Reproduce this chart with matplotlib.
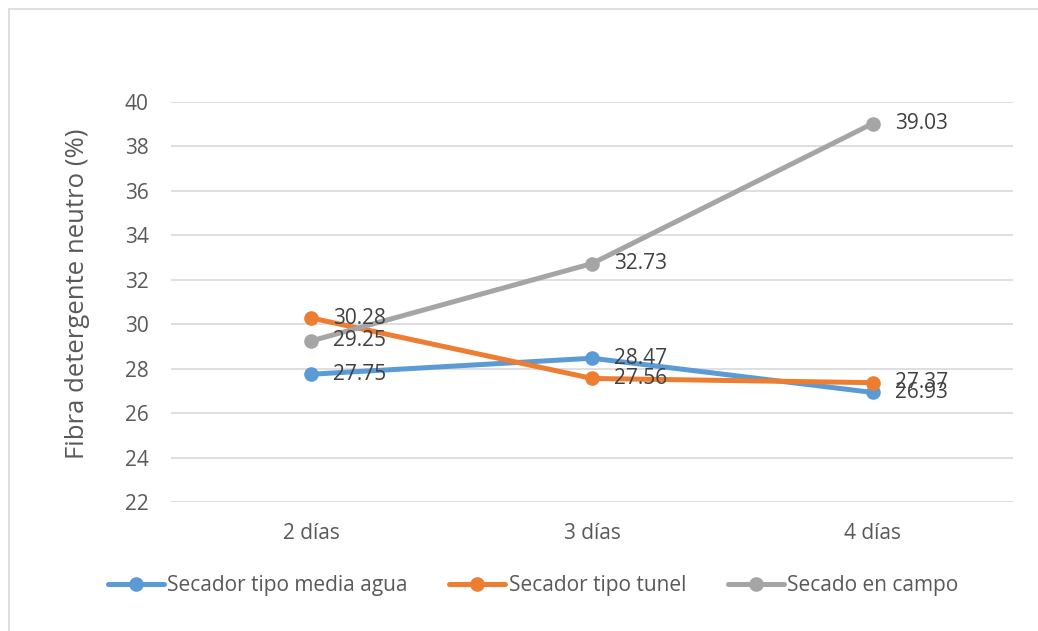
import matplotlib
matplotlib.use("Agg")
import matplotlib.pyplot as plt
from matplotlib.patches import Rectangle

plt.rcParams['font.family'] = ['Open Sans', 'DejaVu Sans']

categories = ["2 días", "3 días", "4 días"]
series_names = ["Secador tipo media agua", "Secador tipo tunel", "Secado en campo"]
media_agua = [27.75, 28.47, 26.93]
tunel = [30.28, 27.56, 27.37]
campo = [29.25, 32.73, 39.03]
yticks = [22, 24, 26, 28, 30, 32, 34, 36, 38, 40]
colors = ["#5B9BD5", "#ED7D31", "#A5A5A5"]
text_color = "#595959"

W, H = 1038, 631
fig = plt.figure(figsize=(W / 100, H / 100), dpi=100)
fig.patch.set_facecolor("white")

# chart border (only top/left visible in frame)
fig.add_artist(Rectangle((9 / W, -0.05), 1.2, 1 - 9 / H + 0.05, transform=fig.transFigure,
                         fill=False, edgecolor="#D9D9D9", linewidth=1.2))

left, right = 171 / W, 1013 / W
top, bottom = 1 - 102 / H, 1 - 502 / H
ax = fig.add_axes([left, bottom, right - left, top - bottom])

x = list(range(len(categories)))
for vals, name, c in zip([media_agua, tunel, campo], series_names, colors):
    ax.plot(x, vals, color=c, linewidth=3.6, marker="o", markersize=9.5,
            label=name, solid_capstyle="round", zorder=3)
    for xi, v in zip(x, vals):
        ax.annotate(f"{v:.2f}", (xi, v), xytext=(22, 0), textcoords="offset pixels",
                    ha="left", va="center", fontsize=15, color="#404040", zorder=4)

ax.set_xlim(-0.5, len(categories) - 0.5)
ax.set_ylim(22, 40)
ax.set_yticks(yticks)
ax.set_yticklabels([str(t) for t in yticks])
ax.set_xticks(x)
ax.set_xticklabels(categories)
ax.grid(axis="y", color="#D9D9D9", linewidth=1.2, zorder=0)
ax.set_axisbelow(True)
for s in ax.spines.values():
    s.set_visible(False)
ax.tick_params(axis="both", length=0, labelsize=15, colors=text_color)
ax.tick_params(axis="y", pad=16)
ax.tick_params(axis="x", pad=15)
ax.set_ylabel("Fibra detergente neutro (%)", fontsize=18.5, color=text_color)
ax.yaxis.set_label_coords(-0.096, 0.52)

handles, labels = ax.get_legend_handles_labels()
leg = fig.legend(handles, labels, loc="center", bbox_to_anchor=(533 / W, 1 - 586 / H),
                 ncol=3, frameon=False, fontsize=15, handlelength=2.7, handletextpad=0.15,
                 columnspacing=2.0, labelcolor=text_color)

fig.savefig("out.png", dpi=100, facecolor="white")
